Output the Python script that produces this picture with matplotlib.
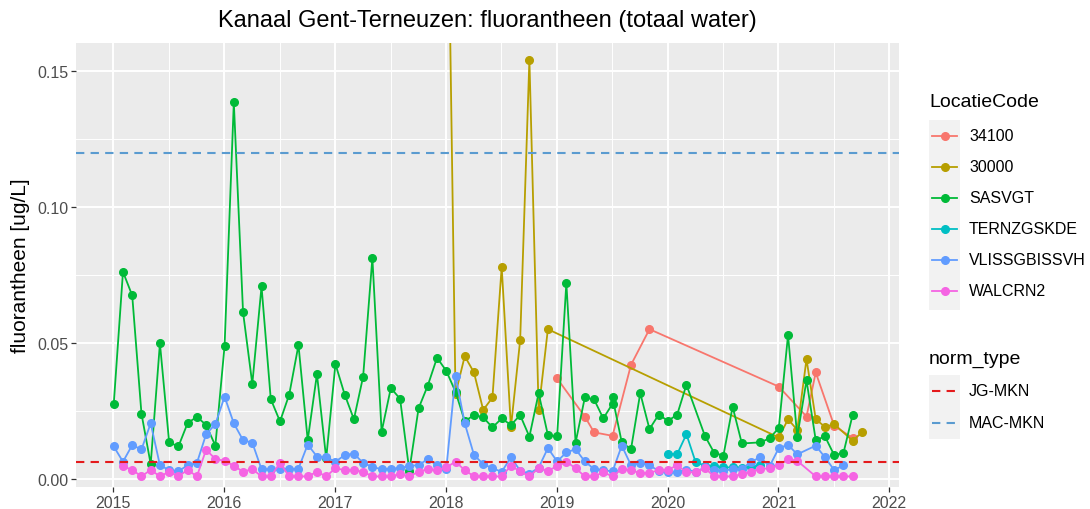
import numpy as np
import matplotlib
matplotlib.use("Agg")
import matplotlib.pyplot as plt
from matplotlib.lines import Line2D
from matplotlib.patches import Rectangle

plt.rcParams['font.family'] = ['Liberation Sans', 'DejaVu Sans']

# ---- data (monthly samples) ----
sasvgt_dates = ["2015-01", "2015-02", "2015-03", "2015-04", "2015-05", "2015-06", "2015-07", "2015-08",
                "2015-09", "2015-10", "2015-11", "2015-12", "2016-01", "2016-02", "2016-03", "2016-04",
                "2016-05", "2016-06", "2016-07", "2016-08", "2016-09", "2016-10", "2016-11", "2016-12",
                "2017-01", "2017-02", "2017-03", "2017-04", "2017-05", "2017-06", "2017-07", "2017-08",
                "2017-09", "2017-10", "2017-11", "2017-12", "2018-01", "2018-02", "2018-03", "2018-04",
                "2018-05", "2018-06", "2018-07", "2018-08", "2018-09", "2018-10", "2018-11", "2018-12",
                "2019-01", "2019-02", "2019-03", "2019-04", "2019-05", "2019-06", "2019-07", "2019-07",
                "2019-08", "2019-09", "2019-10", "2019-11", "2019-12", "2020-01", "2020-02", "2020-03",
                "2020-05", "2020-06", "2020-07", "2020-08", "2020-09", "2020-11", "2020-12", "2021-01",
                "2021-02", "2021-03", "2021-04", "2021-05", "2021-06", "2021-07", "2021-08", "2021-09"]
sasvgt_vals = [0.0276, 0.0762, 0.0675, 0.0241, 0.0055, 0.0499, 0.0135, 0.0120,
               0.0206, 0.0229, 0.0199, 0.0123, 0.0490, 0.1385, 0.0613, 0.0350,
               0.0708, 0.0294, 0.0212, 0.0311, 0.0493, 0.0143, 0.0386, 0.0076,
               0.0423, 0.0311, 0.0220, 0.0377, 0.0813, 0.0174, 0.0335, 0.0295,
               0.0031, 0.0260, 0.0344, 0.0446, 0.0398, 0.0321, 0.0213, 0.0235,
               0.0227, 0.0190, 0.0223, 0.0199, 0.0235, 0.0156, 0.0316, 0.0162,
               0.0157, 0.0721, 0.0134, 0.0300, 0.0293, 0.0223, 0.0277, 0.0300,
               0.0135, 0.0110, 0.0316, 0.0184, 0.0237, 0.0214, 0.0237, 0.0347,
               0.0159, 0.0097, 0.0086, 0.0266, 0.0131, 0.0135, 0.0150, 0.0188,
               0.0529, 0.0156, 0.0363, 0.0143, 0.0157, 0.0088, 0.0096, 0.0237]

s30000_dates = ["2018-01", "2018-02", "2018-03", "2018-04", "2018-05", "2018-06", "2018-07", "2018-08",
                "2018-09", "2018-10", "2018-11", "2018-12", "2021-01", "2021-02", "2021-03", "2021-04",
                "2021-05", "2021-06", "2021-07", "2021-09", "2021-10"]
s30000_vals = [0.26, 0.0313, 0.0452, 0.0392, 0.0254, 0.0300, 0.0780, 0.0190,
               0.0511, 0.1542, 0.0254, 0.0551, 0.0153, 0.0220, 0.0181, 0.0441,
               0.0220, 0.0192, 0.0202, 0.0141, 0.0172]

s34100_dates = ["2019-01", "2019-04", "2019-05", "2019-07", "2019-09", "2019-11",
                "2021-01", "2021-04", "2021-05", "2021-07", "2021-09"]
s34100_vals = [0.0370, 0.0230, 0.0172, 0.0159, 0.0420, 0.0551,
               0.0340, 0.0230, 0.0392, 0.0196, 0.0151]

ternz_dates = ["2020-01", "2020-02", "2020-03", "2020-04", "2020-05", "2020-06",
               "2020-07", "2020-08", "2020-09", "2020-10", "2020-11"]
ternz_vals = [0.0092, 0.0092, 0.0165, 0.0062, 0.0050, 0.0048,
              0.0043, 0.0043, 0.0042, 0.0045, 0.0051]

vliss_dates = ["2015-01", "2015-02", "2015-03", "2015-04", "2015-05", "2015-06", "2015-07", "2015-08",
               "2015-09", "2015-10", "2015-11", "2015-12", "2016-01", "2016-02", "2016-03", "2016-04",
               "2016-05", "2016-06", "2016-07", "2016-08", "2016-09", "2016-10", "2016-11", "2016-12",
               "2017-01", "2017-02", "2017-03", "2017-04", "2017-05", "2017-06", "2017-07", "2017-08",
               "2017-09", "2017-10", "2017-11", "2017-12", "2018-01", "2018-02", "2018-03", "2018-04",
               "2018-05", "2018-06", "2018-07", "2018-08", "2018-09", "2018-10", "2018-11", "2018-12",
               "2019-01", "2019-02", "2019-03", "2019-04", "2019-05", "2019-06", "2019-07", "2019-08",
               "2019-09", "2019-10", "2019-11", "2019-12", "2020-01", "2020-02", "2020-03", "2020-04",
               "2020-05", "2020-06", "2020-07", "2020-08", "2020-09", "2020-10", "2020-11", "2020-12",
               "2021-01", "2021-02", "2021-03", "2021-05", "2021-06", "2021-07", "2021-08"]
vliss_vals = [0.0120, 0.0064, 0.0125, 0.0109, 0.0205, 0.0051, 0.0033, 0.0029,
              0.0051, 0.0059, 0.0165, 0.0202, 0.0303, 0.0205, 0.0143, 0.0134,
              0.0036, 0.0036, 0.0036, 0.0036, 0.0039, 0.0127, 0.0083, 0.0080,
              0.0064, 0.0088, 0.0094, 0.0059, 0.0045, 0.0036, 0.0039, 0.0040,
              0.0049, 0.0051, 0.0074, 0.0051, 0.0037, 0.0380, 0.0205, 0.0089,
              0.0055, 0.0040, 0.0027, 0.0080, 0.0031, 0.0020, 0.0042, 0.0114,
              0.0065, 0.0098, 0.0110, 0.0065, 0.0037, 0.0033, 0.0028, 0.0123,
              0.0051, 0.0061, 0.0051, 0.0030, 0.0025, 0.0025, 0.0035, 0.0027,
              0.0043, 0.0034, 0.0030, 0.0037, 0.0037, 0.0064, 0.0080, 0.0047,
              0.0114, 0.0126, 0.0091, 0.0123, 0.0080, 0.0033, 0.0051]

walcrn_dates = ["2015-02", "2015-03", "2015-04", "2015-05", "2015-06", "2015-07", "2015-08",
                "2015-09", "2015-10", "2015-11", "2015-12", "2016-01", "2016-02", "2016-03", "2016-04",
                "2016-05", "2016-06", "2016-07", "2016-08", "2016-09", "2016-10", "2016-11", "2016-12",
                "2017-01", "2017-02", "2017-03", "2017-04", "2017-05", "2017-06", "2017-07", "2017-08",
                "2017-09", "2017-10", "2017-11", "2017-12", "2018-01", "2018-02", "2018-03", "2018-04",
                "2018-05", "2018-06", "2018-07", "2018-08", "2018-09", "2018-10", "2018-11", "2018-12",
                "2019-01", "2019-02", "2019-03", "2019-04", "2019-05", "2019-06", "2019-07", "2019-08",
                "2019-09", "2019-10", "2019-11", "2019-12", "2020-01", "2020-02", "2020-03", "2020-04",
                "2020-05", "2020-06", "2020-07", "2020-08", "2020-09", "2020-10", "2020-11", "2020-12",
                "2021-01", "2021-02", "2021-03", "2021-05", "2021-06", "2021-07", "2021-08", "2021-09"]
walcrn_vals = [0.0047, 0.0034, 0.0010, 0.0034, 0.0010, 0.0027, 0.0010,
               0.0034, 0.0010, 0.0108, 0.0074, 0.0067, 0.0049, 0.0027, 0.0037,
               0.0010, 0.0010, 0.0059, 0.0010, 0.0010, 0.0010, 0.0027, 0.0010,
               0.0040, 0.0033, 0.0033, 0.0027, 0.0010, 0.0010, 0.0010, 0.0018,
               0.0010, 0.0027, 0.0037, 0.0033, 0.0043, 0.0064, 0.0033, 0.0010,
               0.0010, 0.0010, 0.0010, 0.0049, 0.0028, 0.0010, 0.0040, 0.0031,
               0.0047, 0.0064, 0.0040, 0.0010, 0.0010, 0.0025, 0.0010, 0.0037,
               0.0033, 0.0022, 0.0022, 0.0034, 0.0034, 0.0051, 0.0025, 0.0025,
               0.0040, 0.0010, 0.0010, 0.0010, 0.0018, 0.0027, 0.0037, 0.0040,
               0.0051, 0.0074, 0.0067, 0.0010, 0.0010, 0.0010, 0.0010, 0.0010]

locations = ["34100", "30000", "SASVGT", "TERNZGSKDE", "VLISSGBISSVH", "WALCRN2"]
loc_colors = ["#F8766D", "#B79F00", "#00BA38", "#00BFC4", "#619CFF", "#F564E3"]
loc_dates = [s34100_dates, s30000_dates, sasvgt_dates, ternz_dates, vliss_dates, walcrn_dates]
loc_vals = [s34100_vals, s30000_vals, sasvgt_vals, ternz_vals, vliss_vals, walcrn_vals]

norm_types = ["JG-MKN", "MAC-MKN"]
norm_vals = [0.0063, 0.12]
norm_colors = ["#E41A1C", "#5A9BD0"]


def to_year(d):
    y, m = d.split("-")
    return int(y) + (int(m) - 1) / 12 + 0.003


# ---- figure ----
W, H = 1090, 510
fig = plt.figure(figsize=(W / 100, H / 100), dpi=100)
ax = fig.add_axes([76 / W, 1 - 488 / H, (899 - 76) / W, (488 - 44) / H])
ax.set_facecolor("#EBEBEB")

for name, col, ds, vs in zip(locations, loc_colors, loc_dates, loc_vals):
    ax.plot([to_year(d) for d in ds], vs, color=col, lw=1.3, marker="o", ms=5.5,
            mec=col, mfc=col, zorder=3)

for name, col, v in zip(norm_types, norm_colors, norm_vals):
    ax.axhline(v, color=col, lw=1.5, ls=(0, (4, 3)), zorder=4)

ax.set_xlim(2014.6625, 2022.0875)
ax.set_ylim(-0.0029, 0.1603)
ax.set_xticks(range(2015, 2023))
ax.set_xticks(np.arange(2015.5, 2022, 1.0), minor=True)
ax.set_yticks([0, 0.05, 0.10, 0.15])
ax.set_yticklabels(["0.00", "0.05", "0.10", "0.15"])
ax.set_yticks([0.025, 0.075, 0.125], minor=True)
ax.grid(which="major", color="white", lw=1.4)
ax.grid(which="minor", color="white", lw=0.7)
ax.set_axisbelow(True)
for s in ax.spines.values():
    s.set_visible(False)
ax.tick_params(which="major", length=3.5, width=0.9, color="#333333", labelcolor="#4D4D4D",
               labelsize=11.5, pad=2)
ax.tick_params(which="minor", length=0)

ax.set_ylabel("fluorantheen [ug/L]", fontsize=15, labelpad=5)
fig.text(487.5 / W, 1 - 21 / H, "Kanaal Gent-Terneuzen: fluorantheen (totaal water)",
         ha="center", va="center", fontsize=17)

# ---- legends (ggplot style) ----
def fx(px):
    return px / W


def fy(py):
    return 1 - py / H


fig.text(fx(929), fy(103), "LocatieCode", ha="left", va="center", fontsize=14)
rows = [137, 168, 199, 230, 261, 292]
fig.add_artist(Rectangle((fx(929), fy(311)), fx(31), (311 - 121) / H, transform=fig.transFigure,
                         facecolor="#F2F2F2", edgecolor="none"))
for name, col, ry in zip(locations, loc_colors, rows):
    fig.add_artist(Line2D([fx(932), fx(957)], [fy(ry), fy(ry)], color=col, lw=1.3,
                          transform=fig.transFigure))
    fig.add_artist(Line2D([fx(944.5)], [fy(ry)], color=col, marker="o", ms=5.5,
                          transform=fig.transFigure))
    fig.text(fx(969), fy(ry), name, ha="left", va="center", fontsize=11.5)

fig.text(fx(929), fy(359), "norm_type", ha="left", va="center", fontsize=14)
nrows = [392, 424]
fig.add_artist(Rectangle((fx(929), fy(440)), fx(31), (440 - 376) / H, transform=fig.transFigure,
                         facecolor="#F2F2F2", edgecolor="none"))
for name, col, ry in zip(norm_types, norm_colors, nrows):
    fig.add_artist(Line2D([fx(932), fx(957)], [fy(ry), fy(ry)], color=col, lw=1.5,
                          ls=(0, (4, 3)), transform=fig.transFigure))
    fig.text(fx(969), fy(ry), name, ha="left", va="center", fontsize=11.5)

fig.savefig("out.png", dpi=100)
